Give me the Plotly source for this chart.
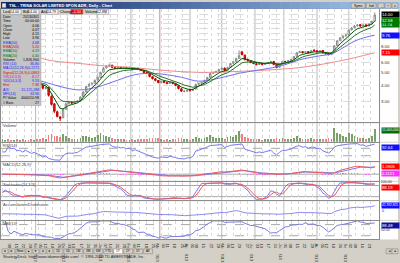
import plotly.graph_objects as go
from plotly.subplots import make_subplots
import pandas as pd
import numpy as np

W, H = 400, 263
FONT = "Liberation Sans, Arial, sans-serif"

# ---------------- data (bars every 2nd trading day, 2012-10-01 .. 2013-09-27) ----------------
opens = [4.40,4.45,4.55,4.40,4.30,4.38,4.26,4.32,4.20,4.34,4.24,4.14,4.22,4.12,4.02,3.78,3.86,3.30,2.88,2.50,
         2.28,2.25,2.62,2.90,2.98,2.92,2.98,3.04,3.28,3.56,3.95,4.10,4.15,4.40,4.60,5.05,5.45,5.62,5.72,5.48,
         5.40,5.52,5.40,5.52,5.40,5.48,5.30,5.42,5.30,5.20,5.02,4.92,4.66,4.50,4.36,4.20,4.30,4.20,4.14,4.22,
         4.12,3.98,3.76,3.58,3.60,3.70,3.66,3.75,4.08,4.16,4.22,4.40,4.62,4.96,5.05,5.14,5.33,5.44,5.24,5.52,
         5.92,6.12,6.46,7.25,6.85,6.30,6.20,5.98,5.88,5.80,5.92,5.80,5.92,6.02,6.12,5.80,5.52,5.82,6.12,6.12,
         6.22,6.35,6.70,7.18,7.30,7.16,7.30,7.18,7.50,7.40,7.30,7.45,7.14,7.10,6.92,7.20,8.12,8.85,9.32,9.68,
         9.85,10.75,11.15,11.55,11.80,11.52,11.75,11.52,11.95,12.55]
highs = [4.58,4.60,4.58,4.45,4.44,4.40,4.36,4.34,4.38,4.36,4.27,4.26,4.24,4.15,4.05,3.95,3.88,3.34,2.92,2.55,
         2.32,2.64,2.94,3.05,3.00,3.02,3.08,3.30,3.62,3.98,4.15,4.22,4.45,4.68,5.10,5.55,5.75,5.90,5.78,5.56,
         5.62,5.58,5.64,5.56,5.60,5.52,5.48,5.45,5.36,5.24,5.08,4.96,4.70,4.55,4.40,4.36,4.34,4.24,4.28,4.25,
         4.16,4.00,3.80,3.68,3.72,3.72,3.78,4.12,4.20,4.28,4.44,4.66,5.00,5.12,5.20,5.38,5.50,5.48,5.58,5.98,
         6.20,6.55,7.45,7.40,6.92,6.45,6.28,6.10,5.98,5.98,5.95,5.96,6.08,6.20,6.15,5.84,5.85,6.18,6.20,6.30,
         6.42,6.75,7.25,7.40,7.36,7.38,7.34,7.52,7.58,7.45,7.50,7.48,7.20,7.14,7.22,8.20,8.95,9.45,9.75,9.95,
         10.85,11.30,11.70,11.90,11.88,11.85,11.80,12.00,12.65,14.60]
lows = [4.35,4.42,4.36,4.28,4.27,4.22,4.22,4.16,4.18,4.20,4.10,4.12,4.06,3.98,3.72,3.74,3.28,2.80,2.45,2.26,
        2.12,2.22,2.58,2.85,2.86,2.88,2.94,3.00,3.25,3.52,3.90,4.05,4.12,4.35,4.58,5.00,5.40,5.55,5.44,5.34,
        5.36,5.36,5.38,5.35,5.36,5.26,5.28,5.25,5.16,4.96,4.88,4.62,4.45,4.30,4.15,4.18,4.16,4.08,4.12,4.08,
        3.94,3.72,3.55,3.54,3.57,3.58,3.62,3.72,4.04,4.10,4.18,4.36,4.58,4.90,5.00,5.10,5.28,5.16,5.20,5.48,
        5.86,6.06,6.40,6.85,6.25,6.12,5.94,5.84,5.72,5.76,5.72,5.76,5.88,5.98,5.74,5.42,5.48,5.78,6.02,6.08,
        6.18,6.30,6.66,7.10,7.08,7.12,7.08,7.14,7.36,7.20,7.26,7.08,6.96,6.84,6.88,7.16,8.05,8.80,9.20,9.55,
        9.80,10.65,11.05,11.40,11.40,11.45,11.40,11.48,11.90,12.50]
closes = [4.45,4.52,4.40,4.33,4.38,4.28,4.30,4.22,4.32,4.24,4.16,4.20,4.12,4.05,3.80,3.86,3.35,2.85,2.52,2.30,
          2.22,2.60,2.88,2.97,2.92,2.97,3.02,3.25,3.55,3.92,4.07,4.14,4.37,4.59,5.03,5.41,5.60,5.70,5.50,5.41,
          5.50,5.41,5.50,5.41,5.50,5.31,5.41,5.31,5.22,5.03,4.94,4.68,4.51,4.37,4.21,4.29,4.21,4.14,4.21,4.14,
          3.99,3.78,3.61,3.61,3.66,3.66,3.72,4.07,4.14,4.21,4.37,4.59,4.94,5.03,5.12,5.31,5.41,5.22,5.50,5.90,
          6.10,6.44,6.79,6.90,6.33,6.21,6.00,5.90,5.79,5.90,5.79,5.90,6.00,6.10,5.79,5.50,5.79,6.10,6.10,6.21,
          6.33,6.67,7.15,7.28,7.15,7.28,7.15,7.41,7.41,7.28,7.41,7.15,7.02,6.90,7.15,8.09,8.83,9.30,9.63,9.80,
          10.70,11.10,11.50,11.70,11.50,11.70,11.50,11.90,12.50,14.00]
volumes_m = [2.1,1.8,2.4,1.9,1.6,2.0,1.7,2.2,1.5,1.9,2.3,1.6,2.0,2.5,
             3.5,2.2,5.8,6.5,5.2,4.8,4.0,
             6.8,5.5,3.2,2.4,2.0,2.2,
             3.6,4.8,5.5,4.0,3.2,4.5,5.8,7.5,6.2,4.8,3.9,
             3.0,2.4,2.2,2.0,2.5,1.9,1.8,2.3,1.7,2.0,2.2,2.8,2.4,
             3.2,2.9,3.5,3.0,2.2,1.9,2.1,1.8,2.0,2.6,3.4,3.0,2.4,2.0,1.9,2.2,
             4.2,3.1,2.6,3.3,4.0,5.6,4.4,3.0,3.6,3.2,2.5,3.8,5.2,4.6,5.9,9.5,
             6.8,4.2,3.1,2.6,2.4,2.2,2.0,1.9,2.1,2.4,2.2,2.8,3.5,2.6,3.0,2.4,2.2,2.5,
             3.4,5.1,3.6,2.6,2.3,2.4,3.0,2.6,2.2,2.5,2.8,2.6,3.2,2.4,
             12.0,8.2,6.5,5.0,4.2,7.8,6.6,5.0,3.8,3.4,3.0,2.8,3.6,5.5,11.0]
# longer averages (bar index -> value)
ema50_bar = [0,10,17,22,27,33,40,45,50,56,62,68,75,82,90,97,103,110,114,118,122,126,129]
ema50_val = [5.04,4.54,4.09,3.82,3.69,3.89,4.39,4.79,4.96,4.87,4.62,4.31,4.54,4.96,5.31,5.69,6.31,6.77,7.01,7.80,8.80,9.44,9.76]
ema200_bar = [0,10,17,27,34,45,56,68,82,95,103,114,122,129]
ema200_val = [7.39,6.77,6.21,5.90,5.69,5.49,5.22,5.04,5.13,5.31,5.49,6.00,6.55,7.15]
price_ticks = [3,4,5,6,7,8,9,10,11,12,13,14]
cursor_date = "2013-03-01"

info_rows = [("Date","20130301","#000000"),("Time","00:00:00","#000000"),("Open","4.06","#000000"),
             ("Close","4.07","#000000"),("High","4.15","#000000"),("Low","3.96","#000000"),
             ("EMA(50)","4.68","#2020ff"),("EMA(200)","5.20","#e00000"),("EMA(10)","4.19","#007000"),
             ("EMA(20)","4.40","#007000"),("Volume","1,826,900","#000000"),("RSI (14)","36.80","#2020ff"),
             ("MACD(12,26,9)","-0.2271","#2020ff"),("Signal(12,26,9)","-0.0863","#e00000"),
             ("%K(14,3,3)","8.17","#d000d0"),("%D(14,3,3)","9.53","#2020ff"),("Hist","7.38","#e00000"),
             ("A/D","-15,125,288","#2020ff"),("MFI(14)","33.96","#2020ff"),("PI Value","4000/10.98","#000000"),
             ("# Bars","27","#000000")]

assert len(opens) == len(highs) == len(lows) == len(closes) == len(volumes_m) == 130

# ---------------- derived ----------------
days = pd.bdate_range("2012-10-01", "2013-09-27")
bar_x = [2 * i for i in range(len(closes))]
c = pd.Series(closes); h = pd.Series(highs); l = pd.Series(lows); o = pd.Series(opens)
v = pd.Series(volumes_m) * 1e6
ema10 = c.ewm(span=5, adjust=False).mean()
ema20 = c.ewm(span=10, adjust=False).mean()
d = c.diff()
gain = d.clip(lower=0).ewm(alpha=1/7, adjust=False).mean()
loss = (-d.clip(upper=0)).ewm(alpha=1/7, adjust=False).mean()
rsi = (100 - 100 / (1 + gain / loss.replace(0, np.nan))).fillna(50)
macd = c.ewm(span=6, adjust=False).mean() - c.ewm(span=13, adjust=False).mean()
sig = macd.ewm(span=5, adjust=False).mean()
hist = macd - sig
ll = l.rolling(7, min_periods=1).min(); hh = h.rolling(7, min_periods=1).max()
kraw = 100 * (c - ll) / (hh - ll)
stk = kraw.rolling(3, min_periods=1).mean()
std = stk.rolling(3, min_periods=1).mean()
ad = (((c - l) - (h - c)) / (h - l) * v).cumsum()
tp = (h + l + c) / 3
mf = tp * v
pos = mf.where(tp > tp.shift(), 0).rolling(10, min_periods=1).sum()
neg = mf.where(tp < tp.shift(), 0).rolling(10, min_periods=1).sum()
mfi = (100 - 100 / (1 + pos / neg.replace(0, np.nan))).fillna(100)

week_idx = [i for i, dd in enumerate(days) if dd.weekday() == 0]
tick_text, seen = [], set()
for i in week_idx:
    dd = days[i]
    s = dd.strftime("%d")
    if (dd.year, dd.month) not in seen:
        seen.add((dd.year, dd.month))
        s += "<br>" + dd.strftime("%b %Y")
    tick_text.append(s)
month_idx = []
prev = None
for i, dd in enumerate(days):
    if dd.month != prev:
        month_idx.append(i); prev = dd.month
cursor_idx = days.get_loc(pd.Timestamp(cursor_date))

# ---------------- figure ----------------
fig = make_subplots(rows=7, cols=1, shared_xaxes=True, vertical_spacing=0)
up = [cc >= oo for cc, oo in zip(closes, opens)]

fig.add_trace(go.Scatter(x=[2*i for i in ema200_bar], y=ema200_val, mode="lines", line=dict(color="#f08a8a", width=1, shape="spline")), 1, 1)
fig.add_trace(go.Scatter(x=[2*i for i in ema50_bar], y=ema50_val, mode="lines", line=dict(color="#7070f0", width=1, shape="spline")), 1, 1)
fig.add_trace(go.Scatter(x=bar_x, y=ema20, mode="lines", line=dict(color="#2f6f2f", width=1)), 1, 1)
fig.add_trace(go.Scatter(x=bar_x, y=ema10, mode="lines", line=dict(color="#005a00", width=1)), 1, 1)
fig.add_trace(go.Candlestick(x=bar_x, open=opens, high=highs, low=lows, close=closes, whiskerwidth=0,
                             increasing=dict(line=dict(color="#8a8a8a", width=1), fillcolor="#ffffff"),
                             decreasing=dict(line=dict(color="#c00000", width=1), fillcolor="#ff1a1a")), 1, 1)
fig.add_trace(go.Bar(x=bar_x, y=v, width=1.2, marker=dict(color=["#7aa06a" if u else "#f08080" for u in up], line=dict(width=0))), 2, 1)
fig.add_trace(go.Scatter(x=bar_x, y=rsi, mode="lines", line=dict(color="#7a7af0", width=1)), 3, 1)
fig.add_trace(go.Bar(x=bar_x, y=hist, width=0.8, marker=dict(color="#ff60ff", line=dict(width=0))), 4, 1)
fig.add_trace(go.Scatter(x=bar_x, y=sig, mode="lines", line=dict(color="#7a7af0", width=1)), 4, 1)
fig.add_trace(go.Scatter(x=bar_x, y=macd, mode="lines", line=dict(color="#f05a5a", width=1)), 4, 1)
fig.add_trace(go.Scatter(x=bar_x, y=stk, mode="lines", line=dict(color="#7a7af0", width=1)), 5, 1)
fig.add_trace(go.Scatter(x=bar_x, y=std, mode="lines", line=dict(color="#f05a5a", width=1)), 5, 1)
fig.add_trace(go.Scatter(x=bar_x, y=ad, mode="lines", line=dict(color="#8a8af0", width=1)), 6, 1)
fig.add_trace(go.Scatter(x=bar_x, y=mfi, mode="lines", line=dict(color="#7a7ae0", width=1)), 7, 1)

panels = [(7,123),(124,143),(144,163),(164,183),(184,203),(204,223),(224,243)]
XR = [-1, 261]
XD = [0, 379/400]
PLO, PHI = 2.077, 15.62
def py(y): return 1 - y / H
def px(x): return x / W
def price_px(p):
    return 7 + (np.log10(PHI) - np.log10(p)) / (np.log10(PHI) - np.log10(PLO)) * 116

# right-column boxes on the price axis (value, colour); ticks hidden where a box sits
price_boxes = [(ema200_val[-1], "#ff0000"), (ema50_val[-1], "#1010ff"), (float(ema20.iloc[-1]), "#007a00"),
               (float(ema10.iloc[-1]), "#007a00"), (closes[-1], "#000000")]
shown_ticks = [t for t in price_ticks if all(abs(price_px(t) - price_px(b)) > 4.8 for b, _ in price_boxes)]

lay = dict(width=W, height=H, margin=dict(l=0, r=0, t=0, b=0), showlegend=False,
           paper_bgcolor="#d4d0c8", plot_bgcolor="rgba(0,0,0,0)", font=dict(family=FONT, size=4.5, color="#303030"),
           hovermode=False, bargap=0)
for k, (t, b) in enumerate(panels, start=1):
    sx = "" if k == 1 else str(k)
    lay["xaxis" + sx] = dict(domain=XD, range=XR, showgrid=True, gridcolor="#d8d8d8", griddash="dot", gridwidth=1,
                             tickvals=week_idx, ticktext=tick_text, showticklabels=(k == 7), ticks="",
                             tickfont=dict(size=4.3, color="#303030"), showline=True, mirror=True,
                             linecolor="#8c8c8c", linewidth=1, zeroline=False, rangeslider=dict(visible=False),
                             anchor="y" + sx, matches=None if k == 7 else "x7")
    lay["yaxis" + sx] = dict(domain=[py(b), py(t)], side="right", showgrid=False, zeroline=False, ticks="",
                             showline=True, mirror=True, linecolor="#8c8c8c", linewidth=1,
                             tickfont=dict(size=4.4, color="#303030"), showticklabels=False, anchor="x" + sx)
lay["yaxis"].update(type="log", range=[np.log10(PLO), np.log10(PHI)], tickvals=price_ticks,
                    ticktext=[("%.2f" % t) if t in shown_ticks else "" for t in price_ticks],
                    showticklabels=True, showgrid=True, gridcolor="#dcdcdc", griddash="dash")
lay["yaxis2"].update(range=[0, 16.5e6])
lay["yaxis3"].update(range=[0, 100])
mlo, mhi = float(min(macd.min(), hist.min())), float(max(macd.max(), hist.max()))
lay["yaxis4"].update(range=[mlo - 0.25*(mhi-mlo), mhi + 0.35*(mhi-mlo)])
lay["yaxis5"].update(range=[0, 100], tickvals=[100], ticktext=["100.00"], showticklabels=True,
                     tickfont=dict(size=3.6, color="#303030"))
alo, ahi = float(ad.min()), float(ad.max())
lay["yaxis6"].update(range=[alo - 0.15*(ahi-alo), ahi + 0.35*(ahi-alo)])
lay["yaxis7"].update(range=[0, 100], tickvals=[50], ticktext=["50.00"], showticklabels=True,
                     tickfont=dict(size=3.6, color="#303030"))
fig.update_layout(**lay)

shapes, annots = [], []
def rect(x0, y0, x1, y1, fill, line=None, lw=0, layer="above"):
    shapes.append(dict(type="rect", xref="paper", yref="paper", x0=px(x0), x1=px(x1), y0=py(y1), y1=py(y0),
                       fillcolor=fill, line=dict(color=line or fill, width=lw), layer=layer))
def txt(x, y, s, size=4.2, color="#000000", anchor="left", **kw):
    annots.append(dict(xref="paper", yref="paper", x=px(x), y=py(y), text=s, showarrow=False, xanchor=anchor,
                       yanchor="middle", font=dict(size=size, color=color, family=FONT), borderpad=0, **kw))

for (t, b) in panels:
    rect(0, t, 379, b, "#ffffff", layer="below")
    rect(380, t, 398, b, "#ffffff", layer="below")
for i in month_idx[1:]:
    for k, (t, b) in enumerate(panels, start=1):
        sx = "" if k == 1 else str(k)
        shapes.append(dict(type="line", xref="x" + sx, yref="paper", x0=i, x1=i, y0=py(b), y1=py(t),
                           line=dict(color="#b8b8b8", width=1), layer="below"))
for k, (t, b) in enumerate(panels, start=1):
    sx = "" if k == 1 else str(k)
    shapes.append(dict(type="line", xref="x" + sx, yref="paper", x0=cursor_idx, x1=cursor_idx, y0=py(b), y1=py(t),
                       line=dict(color="#f2a0a0", width=1), layer="below"))
for yref, val, dash in [("y3", 30, "dash"), ("y3", 70, "dash"), ("y5", 20, "solid"), ("y5", 80, "solid"),
                        ("y7", 20, "dash"), ("y7", 80, "dash"), ("y4", 0, "solid")]:
    shapes.append(dict(type="line", xref="paper", yref=yref, x0=0, x1=XD[1], y0=val, y1=val,
                       line=dict(color="#a8a8a8", width=1, dash=dash), layer="below"))

# title bar gradient
n = 40
for j in range(n):
    f = j / (n - 1)
    col = "rgb(%d,%d,%d)" % (10 + f*156, 36 + f*166, 106 + f*134)
    rect(j*W/n, 0, (j+1)*W/n + 0.5, 7, col)
rect(1, 1.2, 5, 5.8, "#e8e8e8", "#606060", 0.5)
txt(7, 3.6, "<b>TSL - TRINA SOLAR LIMITED SPON ADR, Daily - Chart</b>", size=4.0, color="#ffffff")
for x0, x1, s in [(351, 365, "Syms"), (366, 376, "Ind"), (378, 384, "_"), (385, 391, "□"), (392, 398, "x")]:
    rect(x0, 1, x1, 6.3, "#d4d0c8", "#707070", 0.5)
    txt((x0 + x1) / 2, 3.7, s, size=3.4, anchor="center")
# toolbar row
rect(0, 7, 108, 13, "#d4d0c8")
for x0, x1, s, lab, lx, fill, fc in [(9, 20, "14.00", "Last", 1, "#ffffff", "#000"),
                                     (27, 38, "14.00", "Bid", 21.5, "#ffffff", "#000"),
                                     (46, 57, "14.79", "Ask", 39.5, "#ffffff", "#000"),
                                     (70, 82, "+1.50", "Change", 58, "#ff0000", "#ffffff"),
                                     (96, 108, "12.8M", "Volume", 83.5, "#ffffff", "#000")]:
    txt(lx, 10, lab, size=3.8)
    rect(x0, 7.6, x1, 12.4, fill, "#808080", 0.5)
    txt(x1 - 0.5, 10, s, size=3.6, color=fc, anchor="right")
# info panel
rect(0, 13, 40, 106, "#c4c4c4", "#9a9a9a", 0.5)
for r, (lab, val, col) in enumerate(info_rows):
    yy = 15.5 + r * 4.37
    txt(1, yy, lab, size=3.6, color=col)
    txt(39.5, yy, val, size=3.6, color=col, anchor="right")

# right column value boxes
def vbox_px(ypix, s, fill, fc="#ffffff", size=4.2):
    annots.append(dict(xref="paper", yref="paper", x=px(380.5), y=py(ypix), text=s, showarrow=False, xanchor="left",
                       yanchor="middle", align="left", width=17, height=4.6, bgcolor=fill, borderpad=0,
                       font=dict(size=size, color=fc, family=FONT)))
for val, col in price_boxes:
    vbox_px(price_px(val), "%.2f" % val, col)
vbox_px(132, "{:,.0f}".format(v.iloc[-1]), "#0a6a0a", size=3.4)
vbox_px(149, "%.2f" % rsi.iloc[-1], "#1010ff")
vbox_px(168, "%.4f" % macd.iloc[-1], "#ff0000")
vbox_px(176, "%.4f" % hist.iloc[-1], "#ff30ff")
vbox_px(190, "%.2f" % std.iloc[-1], "#ff0000")
vbox_px(208, "{:,.0f}".format(ad.iloc[-1]), "#1010ff", size=3.2)
txt(381, 213.5, "0", size=3.6, color="#303030")
vbox_px(229, "%.2f" % mfi.iloc[-1], "#10109a")

# panel labels
for (t, b), s in zip(panels[1:], ["Volume", "RSI(14)", "MACD(12,26,9)", "Stochastic(14,3,3)",
                                  "Accumulation/Distribution", "MFI(14)"]):
    txt(1.5, t + 2.8, s, size=4.0, color="#404040")

# bottom toolbar and footer
rect(0, 252, 400, 258, "#d4d0c8")
bx = 1
for j, s in enumerate(["◄", "►", "New", "▲", "▼", "◄", "►", "1D", "5D", "1M", "3M", "6M", "YTD", "1Y", "2Y", "5Y", "All"]):
    w = 9 if len(s) > 1 else 6
    fill = "#ffffff" if s == "1Y" else "#d4d0c8"
    rect(bx, 252.6, bx + w, 257.6, fill, "#7a7a7a", 0.5)
    txt(bx + w / 2, 255.1, s, size=3.2, anchor="center")
    bx += w + 1
rect(386, 252.6, 392, 257.6, "#d4d0c8", "#7a7a7a", 0.5)
rect(392, 252.6, 398, 257.6, "#d4d0c8", "#7a7a7a", 0.5)
txt(389, 255.1, "◄", size=3, anchor="center"); txt(395, 255.1, "►", size=3, anchor="center")
txt(1, 260.6, "StrategyDesk  http://www.tdameritrade.com/  © 1996-2008 TD AMERITRADE, Inc.", size=3.9, color="#202020")

fig.update_layout(shapes=shapes, annotations=annots)
fig.write_html("out.html", include_plotlyjs=True, config={"displayModeBar": False, "staticPlot": True})
